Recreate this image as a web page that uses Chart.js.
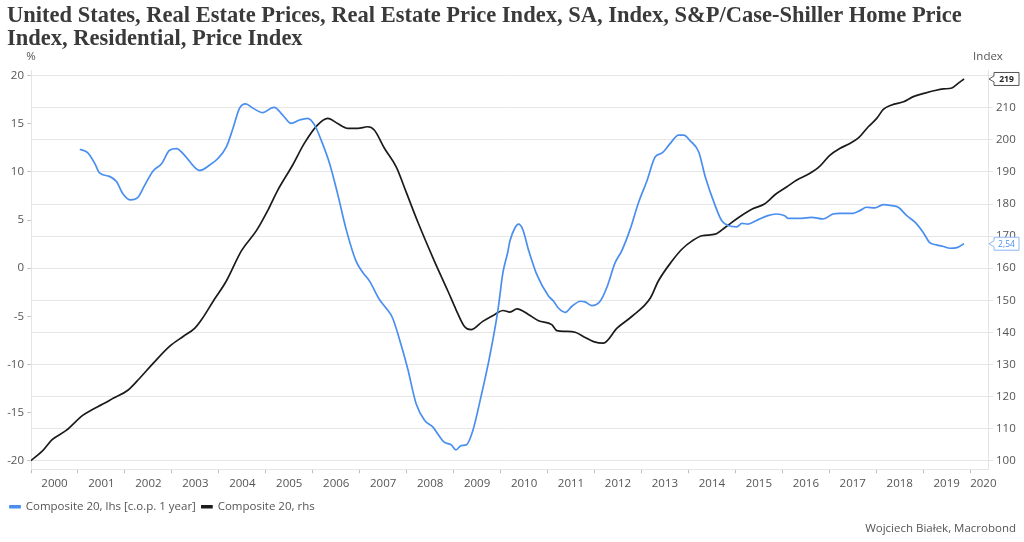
<!DOCTYPE html>
<html>
<head>
<meta charset="utf-8">
<script src="https://cdn.jsdelivr.net/npm/chart.js@4.4.1/dist/chart.umd.min.js"></script>
<style>
  html, body { margin: 0; padding: 0; background: #fff; }
  #wrap { width: 1024px; height: 542px; }
</style>
</head>
<body>
<div id="wrap"><canvas id="chart"></canvas></div>
<script>
// Composite 20 index level (rhs), decimal years
const indexYears = [
  2000.00, 2000.25, 2000.45, 2000.75, 2001.10, 2001.28, 2001.53, 2001.75, 2002.07, 2002.31,
  2002.60, 2002.95, 2003.24, 2003.49, 2003.63, 2003.88, 2004.16, 2004.48, 2004.80, 2005.06,
  2005.25, 2005.57, 2005.82, 2006.10, 2006.32, 2006.53, 2006.75, 2006.96, 2007.17, 2007.31,
  2007.53, 2007.78, 2007.99, 2008.24, 2008.59, 2008.88, 2009.05, 2009.23, 2009.37, 2009.62,
  2009.87, 2010.05, 2010.20, 2010.35, 2010.60, 2010.81, 2011.09, 2011.20, 2011.38, 2011.59,
  2011.80, 2011.98, 2012.19, 2012.48, 2012.80, 2013.19, 2013.36, 2013.65, 2013.86, 2014.08,
  2014.29, 2014.57, 2014.78, 2015.07, 2015.37, 2015.62, 2015.87, 2016.09, 2016.30, 2016.58,
  2016.80, 2017.01, 2017.22, 2017.44, 2017.62, 2017.83, 2018.01, 2018.15, 2018.33, 2018.58,
  2018.79, 2019.04, 2019.25, 2019.43, 2019.61, 2019.75, 2019.87
];
const indexValues = [
  100.0, 103.1, 106.5, 109.4, 114.1, 115.7, 117.6, 119.4, 122.0, 125.6,
  130.3, 135.6, 138.7, 141.3, 143.9, 149.7, 156.0, 165.4, 171.7, 178.5,
  184.2, 192.1, 198.9, 204.6, 206.7, 205.1, 203.6, 203.6, 204.1, 203.1,
  197.3, 191.5, 183.7, 174.3, 162.2, 152.8, 147.1, 141.8, 140.8, 143.4,
  145.5, 146.8, 146.3, 147.3, 145.5, 143.6, 142.4, 140.5, 140.3, 140.0,
  138.4, 137.1, 136.6, 141.3, 145.0, 150.7, 156.0, 162.2, 165.9, 168.5,
  170.1, 170.6, 172.7, 175.8, 178.5, 180.0, 183.2, 185.3, 187.4, 189.5,
  191.8, 195.2, 197.3, 198.9, 200.6, 204.1, 206.7, 209.5, 210.9, 211.9,
  213.5, 214.6, 215.4, 215.9, 216.2, 217.7, 219.0
];

// Composite 20 y/y change in % (lhs)
const yoyYears = [
  2001.04, 2001.21, 2001.36, 2001.46, 2001.67, 2001.82, 2001.96, 2002.12, 2002.28, 2002.42,
  2002.60, 2002.78, 2002.95, 2003.10, 2003.27, 2003.48, 2003.59, 2003.80, 2003.98, 2004.16,
  2004.30, 2004.44, 2004.57, 2004.73, 2004.94, 2005.10, 2005.18, 2005.36, 2005.54, 2005.72,
  2005.89, 2006.04, 2006.18, 2006.36, 2006.53, 2006.71, 2006.92, 2007.07, 2007.21, 2007.42,
  2007.56, 2007.70, 2007.84, 2008.02, 2008.20, 2008.38, 2008.56, 2008.66, 2008.80, 2008.95,
  2009.05, 2009.16, 2009.27, 2009.41, 2009.59, 2009.76, 2009.94, 2010.05, 2010.15, 2010.20,
  2010.31, 2010.38, 2010.47, 2010.60, 2010.77, 2011.02, 2011.13, 2011.23, 2011.38, 2011.52,
  2011.70, 2011.80, 2011.94, 2012.12, 2012.26, 2012.44, 2012.58, 2012.76, 2012.94, 2013.12,
  2013.29, 2013.44, 2013.61, 2013.79, 2013.90, 2014.04, 2014.22, 2014.36, 2014.57, 2014.71,
  2014.86, 2015.03, 2015.14, 2015.27, 2015.44, 2015.69, 2015.87, 2016.05, 2016.12, 2016.41,
  2016.62, 2016.87, 2017.08, 2017.22, 2017.51, 2017.65, 2017.79, 2017.97, 2018.15, 2018.33,
  2018.47, 2018.65, 2018.83, 2019.00, 2019.14, 2019.28, 2019.43, 2019.57, 2019.72, 2019.87
];
const yoyValues = [
  12.36, 11.98, 10.86, 9.90, 9.54, 9.00, 7.72, 7.10, 7.37, 8.60,
  10.10, 10.86, 12.26, 12.43, 11.73, 10.51, 10.16, 10.69, 11.40, 12.60,
  14.52, 16.62, 17.07, 16.62, 16.16, 16.60, 16.72, 15.92, 15.05, 15.40,
  15.57, 14.87, 13.30, 10.86, 7.72, 4.06, 0.75, -0.47, -1.35, -3.26,
  -4.14, -5.18, -7.28, -10.40, -14.08, -15.82, -16.52, -17.22, -18.09, -18.37,
  -18.89, -18.44, -18.37, -16.87, -13.20, -9.37, -4.49, -0.47, 1.60, 2.84,
  4.23, 4.58, 4.06, 1.80, -0.65, -2.90, -3.44, -4.14, -4.59, -3.96,
  -3.44, -3.51, -3.90, -3.44, -2.04, 0.57, 1.80, 4.06, 6.85, 9.12,
  11.56, 11.98, 12.95, 13.83, 13.83, 13.23, 12.08, 9.47, 6.50, 4.93,
  4.41, 4.30, 4.65, 4.58, 4.93, 5.46, 5.63, 5.46, 5.18, 5.18,
  5.28, 5.11, 5.63, 5.70, 5.70, 5.98, 6.33, 6.26, 6.61, 6.50,
  6.33, 5.46, 4.76, 3.71, 2.66, 2.42, 2.25, 2.07, 2.14, 2.54
];

const yearTicks = [2000, 2001, 2002, 2003, 2004, 2005, 2006, 2007, 2008, 2009, 2010,
  2011, 2012, 2013, 2014, 2015, 2016, 2017, 2018, 2019, 2020];
const leftTicks = [-20, -15, -10, -5, 0, 5, 10, 15, 20];
const rightTicks = [100, 110, 120, 130, 140, 150, 160, 170, 180, 190, 200, 210, 220];

const titleLines = [
  'United States, Real Estate Prices, Real Estate Price Index, SA, Index, S&P/Case-Shiller Home Price',
  'Index, Residential, Price Index'
];

const BLUE = '#4a8ff0';
const BLACK = '#1b1b1b';
const TEXT = '#555555';
const FONT = '"Open Sans", "Noto Sans", sans-serif';

const toPoints = (xs, ys) => xs.map((x, i) => ({ x, y: ys[i] }));
const setTicks = (values) => (scale) => { scale.ticks = values.map(v => ({ value: v })); };

// "%" / "Index" headers and last-value callouts at the right edge
const overlay = {
  id: 'overlay',
  afterLayout(chart) {
    // pull the legend a little to the left, like the original
    chart.legend.left -= 3;
    chart.legend.right -= 3;
  },
  afterDraw(chart) {
    const { ctx, chartArea } = chart;
    ctx.save();
    ctx.font = '11.5px ' + FONT;
    ctx.fillStyle = TEXT;
    ctx.textAlign = 'center';
    ctx.textBaseline = 'middle';
    ctx.fillText('%', chartArea.left, chartArea.top - 13);
    ctx.fillText('Index', chartArea.right, chartArea.top - 13);

    chart.data.datasets.forEach((ds, i) => {
      const meta = chart.getDatasetMeta(i);
      const last = meta.data[meta.data.length - 1];
      const value = ds.data[ds.data.length - 1].y;
      const label = i === 0 ? value.toFixed(2).replace('.', ',') : String(Math.round(value));
      const tip = chartArea.right + 1;
      const x0 = tip + 5, w = 25, h = 13, y = last.y;
      ctx.beginPath();
      ctx.moveTo(x0, y - h / 2);
      ctx.lineTo(x0 + w, y - h / 2);
      ctx.lineTo(x0 + w, y + h / 2);
      ctx.lineTo(x0, y + h / 2);
      ctx.lineTo(x0, y + 3);
      ctx.lineTo(tip, y);
      ctx.lineTo(x0, y - 3);
      ctx.closePath();
      ctx.fillStyle = '#fff';
      ctx.fill();
      ctx.lineWidth = 1;
      ctx.strokeStyle = i === 0 ? '#8cb8f5' : '#555';
      ctx.stroke();
      ctx.fillStyle = i === 0 ? BLUE : '#222';
      ctx.font = (i === 0 ? '' : 'bold ') + '8.5px ' + FONT;
      ctx.fillText(label, x0 + w / 2, y + 0.5);
    });
    ctx.restore();
  }
};

new Chart(document.getElementById('chart'), {
  type: 'line',
  data: {
    datasets: [
      {
        label: 'Composite 20, lhs [c.o.p. 1 year]',
        data: toPoints(yoyYears, yoyValues),
        yAxisID: 'yL',
        borderColor: BLUE,
        backgroundColor: BLUE,
        borderWidth: 1.7,
        pointRadius: 0,
        cubicInterpolationMode: 'monotone'
      },
      {
        label: 'Composite 20, rhs',
        data: toPoints(indexYears, indexValues),
        yAxisID: 'yR',
        borderColor: BLACK,
        backgroundColor: BLACK,
        borderWidth: 1.7,
        pointRadius: 0,
        cubicInterpolationMode: 'monotone'
      }
    ]
  },
  options: {
    responsive: true,
    maintainAspectRatio: false,
    animation: false,
    layout: { padding: { left: 7, right: 8, top: 0, bottom: 8 } },
    scales: {
      x: {
        type: 'linear',
        min: 2000,
        max: 2020.38,
        afterBuildTicks: setTicks(yearTicks),
        ticks: { display: false },
        grid: { drawOnChartArea: false, drawTicks: true, tickLength: 4, color: '#bdbdbd' },
        border: { display: true, color: '#e4e4e4' }
      },
      xLabels: {
        type: 'linear',
        position: 'bottom',
        min: 2000,
        max: 2020.38,
        afterBuildTicks: setTicks(yearTicks.slice(0, -1).map(y => y + 0.5).concat([2020.28])),
        ticks: {
          autoSkip: false,
          maxRotation: 0,
          padding: 4,
          color: TEXT,
          font: { family: FONT, size: 11.5 },
          callback: (v) => String(Math.floor(v))
        },
        grid: { display: false, drawTicks: false },
        border: { display: false }
      },
      yL: {
        position: 'left',
        min: -20.9,
        max: 20.6,
        afterBuildTicks: setTicks(leftTicks),
        afterFit: (scale) => { scale.width = 24; },
        ticks: { padding: 3, color: TEXT, font: { family: FONT, size: 11.5 } },
        grid: { drawOnChartArea: false, drawTicks: true, tickLength: 4, color: '#c8c8c8' },
        border: { display: true, color: '#e4e4e4' }
      },
      yR: {
        position: 'right',
        min: 97.3,
        max: 221.8,
        afterBuildTicks: setTicks(rightTicks),
        afterFit: (scale) => { scale.width = 28; },
        ticks: {
          padding: 3,
          color: TEXT,
          font: { family: FONT, size: 11.5 },
          callback: (v) => (v === 220 ? '' : String(v))
        },
        grid: { color: '#e6e6e6', tickLength: 5 },
        border: { display: true, color: '#e4e4e4' }
      }
    },
    plugins: {
      title: {
        display: true,
        align: 'start',
        text: titleLines,
        color: '#3a3a3a',
        font: { family: '"Liberation Serif", serif', size: 22.5, weight: 'bold', lineHeight: 1.0 },
        padding: { top: 5, bottom: 20 }
      },
      subtitle: {
        display: true,
        position: 'bottom',
        align: 'end',
        text: 'Wojciech Białek, Macrobond',
        color: TEXT,
        font: { family: FONT, size: 11.5, lineHeight: 1.0 },
        padding: { top: 0, bottom: 0 }
      },
      legend: {
        position: 'bottom',
        align: 'start',
        labels: {
          boxWidth: 10,
          boxHeight: 2,
          padding: 6,
          color: TEXT,
          font: { family: FONT, size: 11.5 }
        }
      },
      tooltip: { enabled: false }
    }
  },
  plugins: [overlay]
});
</script>
</body>
</html>
